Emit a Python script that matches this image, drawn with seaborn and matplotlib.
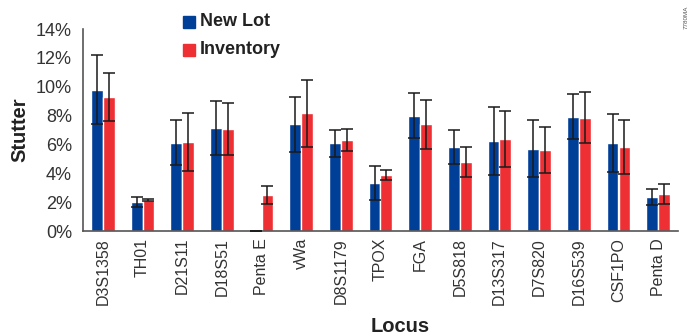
import matplotlib
matplotlib.use("Agg")
import matplotlib.pyplot as plt
from matplotlib import font_manager
from matplotlib.ticker import FixedLocator, PercentFormatter
import numpy as np
import pandas as pd
import seaborn as sns

loci = ["D3S1358", "TH01", "D21S11", "D18S51", "Penta E", "vWa", "D8S1179",
        "TPOX", "FGA", "D5S818", "D13S317", "D7S820", "D16S539", "CSF1PO", "Penta D"]
series = ["New Lot", "Inventory"]

new_lot = [9.78, 2.01, 6.12, 7.14, 0.02, 7.39, 6.07, 3.30, 7.99, 5.82, 6.24, 5.70, 7.92, 6.10, 2.36]
new_lot_sd = [2.39, 0.35, 1.55, 1.85, 0.0, 1.92, 0.92, 1.18, 1.57, 1.18, 2.35, 1.99, 1.56, 2.01, 0.54]
inventory = [9.28, 2.15, 6.17, 7.07, 2.49, 8.15, 6.30, 3.88, 7.39, 4.78, 6.37, 5.59, 7.85, 5.82, 2.56]
inventory_sd = [1.64, 0.05, 1.99, 1.78, 0.65, 2.33, 0.79, 0.36, 1.71, 1.05, 1.96, 1.59, 1.76, 1.84, 0.67]

colors = {"New Lot": "#003f98", "Inventory": "#ee3034"}

names = {f.name for f in font_manager.fontManager.ttflist}
cond = "Liberation Sans Narrow"
if cond not in names:
    cond = "DejaVu Sans Condensed" if "DejaVu Sans Condensed" in names else "Liberation Sans"
cond_family = [cond, "DejaVu Sans"]

sns.set_style("white")
plt.rcParams["font.family"] = ["Liberation Sans", "DejaVu Sans"]

df = pd.DataFrame({
    "Locus": loci * 2,
    "Series": ["New Lot"] * len(loci) + ["Inventory"] * len(loci),
    "Stutter": new_lot + inventory,
})

fig = plt.figure(figsize=(6.91, 3.35), dpi=100)
ax = fig.add_axes([83 / 691, 104 / 335, 595 / 691, 202 / 335])

sns.barplot(data=df, x="Locus", y="Stutter", hue="Series", order=loci,
            hue_order=series, palette=colors, width=0.6, errorbar=None,
            saturation=1, legend=False, ax=ax)

# error bars from the same means and SDs, placed on each bar's center
sds = {"New Lot": new_lot_sd, "Inventory": inventory_sd}
vals = {"New Lot": new_lot, "Inventory": inventory}
for cont, s in zip(ax.containers, series):
    xs = [p.get_x() + p.get_width() / 2 for p in cont.patches]
    ax.errorbar(xs, vals[s], yerr=sds[s], fmt="none", ecolor="#1a1a1a",
                elinewidth=1.1, capsize=4, capthick=1.1, zorder=5)

ax.set_xlim(-0.5, len(loci) - 0.5)
ax.set_ylim(0, 14)
ax.yaxis.set_major_locator(FixedLocator(np.arange(0, 15, 2)))
ax.yaxis.set_major_formatter(PercentFormatter(decimals=0))

ax.set_xticks(np.arange(len(loci)))
ax.set_xticklabels(loci, rotation=90, fontsize=11.5, color="#333333")
ax.tick_params(axis="x", which="major", length=0, pad=5)
ax.set_xticks(np.arange(-0.5, len(loci)), minor=True)
ax.tick_params(axis="x", which="minor", length=5, width=1, color="#555555",
               direction="out")
ax.tick_params(axis="y", length=6, width=1, color="#555555", direction="out",
               labelsize=13, labelcolor="#333333", pad=2)

for side in ("top", "right"):
    ax.spines[side].set_visible(False)
for side in ("left", "bottom"):
    ax.spines[side].set_color("#555555")
    ax.spines[side].set_linewidth(1.2)

ax.set_xlabel("")
ax.set_ylabel("")
fig.text(400 / 691, 1 - 326 / 335, "Locus", fontsize=14.5, fontweight="bold",
         family=cond_family, color="#222222", ha="center", va="center")
fig.text(20 / 691, 1 - 130 / 335, "Stutter", fontsize=14.5, fontweight="bold",
         family=cond_family, color="#222222", ha="center", va="center",
         rotation=90)

# legend swatches and labels
for i, s in enumerate(series):
    fig.patches.append(plt.Rectangle((183 / 691, (335 - 28 - i * 28) / 335),
                                     12 / 691, 12 / 335, color=colors[s],
                                     transform=fig.transFigure))
    fig.text(200 / 691, (335 - 22 - i * 28) / 335, s, fontsize=13,
             fontweight="bold", family=cond_family, color="#222222",
             va="center", ha="left")

fig.text(686 / 691, 318 / 335, "7780MA", fontsize=4.5, rotation=90,
         color="#555555", ha="center", va="center")

fig.savefig("out.png", dpi=100)
